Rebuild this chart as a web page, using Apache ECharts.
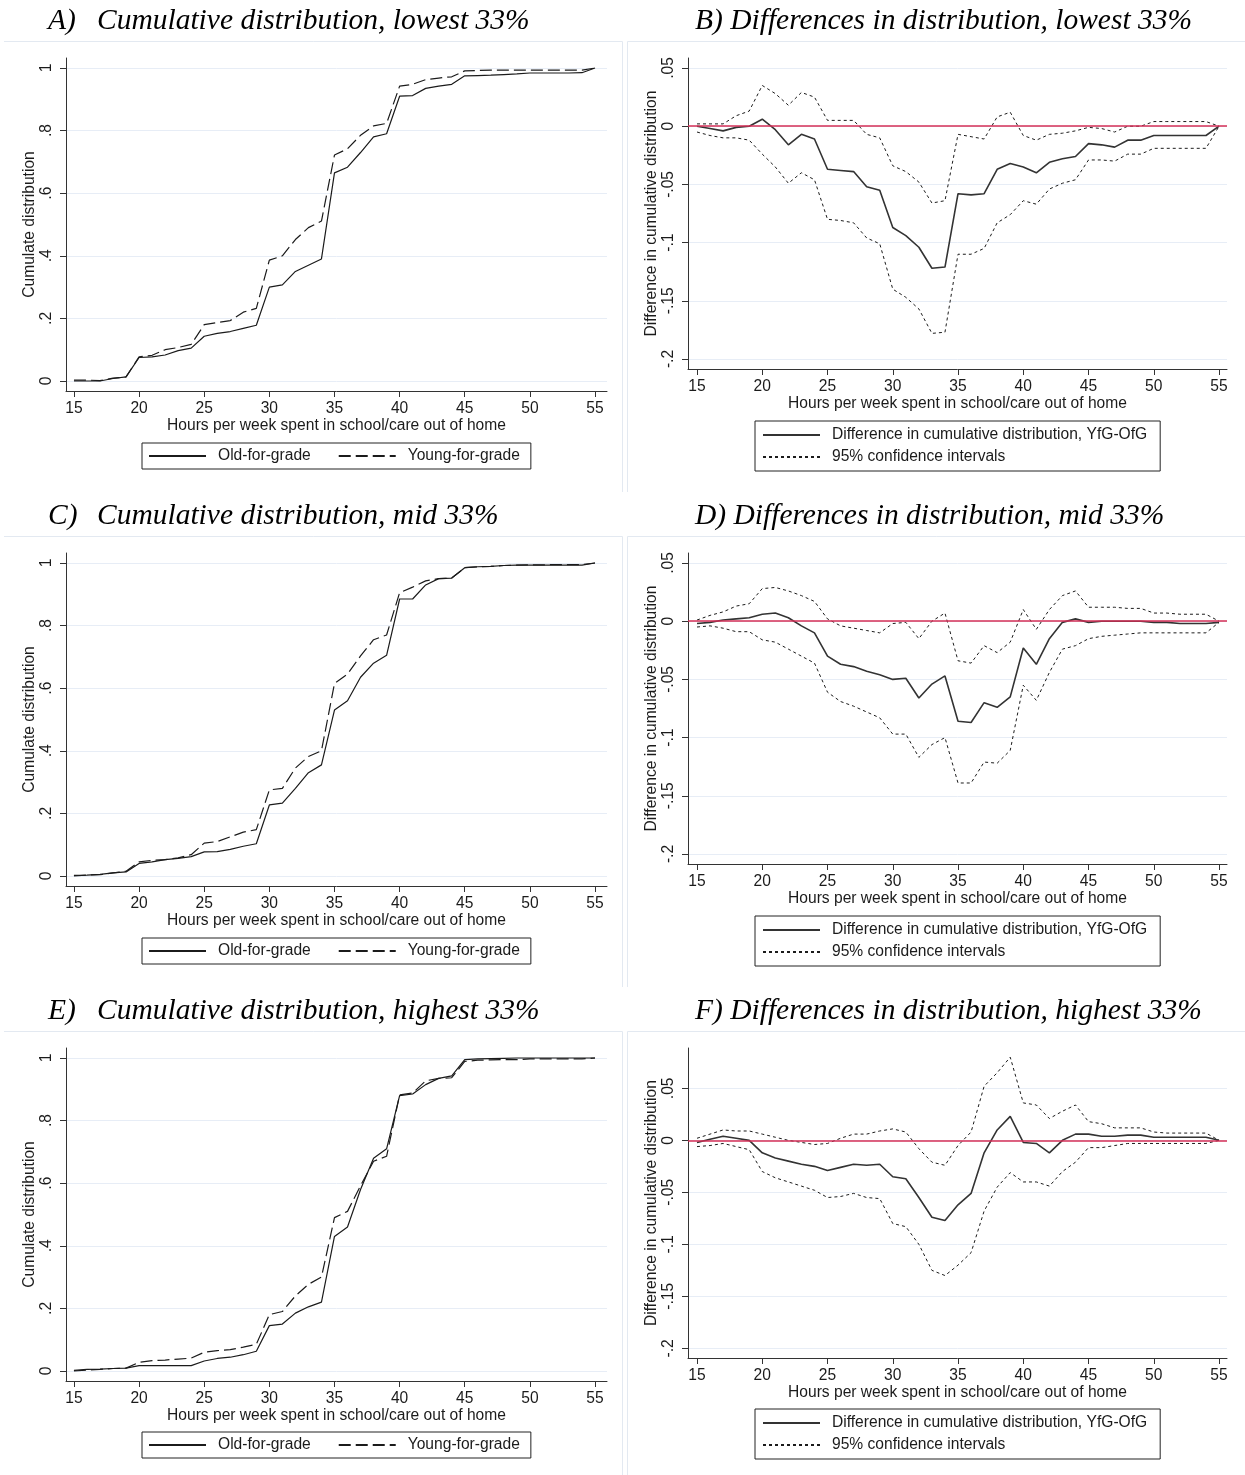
<!DOCTYPE html>
<html>
<head>
<meta charset="utf-8">
<script src="https://cdn.jsdelivr.net/npm/echarts@6/dist/echarts.min.js"></script>
<style>
  html, body { margin: 0; padding: 0; background: #fff; }
  #chart { width: 1245px; height: 1475px; }
</style>
</head>
<body>
<div id="chart"></div>
<script>
// Hours per week spent in school/care out of home
const hours = [15,16,17,18,19,20,21,22,23,24,25,26,27,28,29,30,31,32,33,34,35,
               36,37,38,39,40,41,42,43,44,45,46,47,48,49,50,51,52,53,54,55];

const xTicks = [15, 20, 25, 30, 35, 40, 45, 50, 55];
const cumTicks = [0, 0.2, 0.4, 0.6, 0.8, 1];
const diffTicks = [-0.2, -0.15, -0.1, -0.05, 0, 0.05];

// Cumulative distributions, lowest 33%
const oldLowest = [0,0,0,0.008,0.013,0.075,0.077,0.083,0.097,0.105,0.143,0.152,0.158,0.168,0.178,
  0.300,0.307,0.350,0.370,0.390,0.665,0.683,0.730,0.780,0.790,0.910,0.912,0.935,0.942,0.948,
  0.975,0.976,0.977,0.979,0.981,0.984,0.984,0.984,0.984,0.985,1.0];
const youngLowest = [0.003,0.003,0.001,0.009,0.013,0.077,0.082,0.100,0.107,0.117,0.180,0.187,0.193,0.220,0.232,
  0.386,0.400,0.452,0.490,0.511,0.722,0.742,0.785,0.815,0.823,0.942,0.948,0.963,0.968,0.972,
  0.991,0.992,0.993,0.993,0.993,0.993,0.993,0.993,0.993,0.993,1.0];

// Differences and 95% confidence bounds, lowest 33%
const diffLowest = [0,-0.002,-0.004,-0.001,0,0.006,-0.003,-0.016,-0.007,-0.011,-0.037,-0.038,-0.039,-0.052,-0.055,
  -0.087,-0.094,-0.104,-0.122,-0.121,-0.058,-0.059,-0.058,-0.037,-0.032,-0.035,-0.040,-0.031,-0.028,-0.026,
  -0.015,-0.016,-0.018,-0.012,-0.012,-0.008,-0.008,-0.008,-0.008,-0.008,0];
const upperLowest = [0.002,0.002,0.002,0.009,0.013,0.035,0.028,0.018,0.029,0.025,0.005,0.005,0.005,-0.007,-0.010,
  -0.034,-0.039,-0.048,-0.066,-0.064,-0.007,-0.009,-0.011,0.008,0.012,-0.008,-0.012,-0.007,-0.006,-0.004,
  -0.001,-0.002,-0.005,0,0,0.004,0.004,0.004,0.004,0.004,0];
const lowerLowest = [-0.005,-0.008,-0.010,-0.010,-0.012,-0.024,-0.035,-0.049,-0.040,-0.046,-0.080,-0.081,-0.083,-0.096,-0.101,
  -0.140,-0.147,-0.157,-0.178,-0.177,-0.110,-0.110,-0.105,-0.083,-0.076,-0.064,-0.067,-0.054,-0.049,-0.046,
  -0.029,-0.029,-0.030,-0.024,-0.024,-0.019,-0.019,-0.019,-0.019,-0.019,0];

// Cumulative distributions, mid 33%
const oldMid = [0.002,0.003,0.005,0.010,0.013,0.040,0.045,0.052,0.056,0.062,0.077,0.078,0.085,0.095,0.103,
  0.227,0.233,0.280,0.330,0.355,0.530,0.560,0.635,0.680,0.705,0.885,0.885,0.930,0.950,0.952,
  0.985,0.988,0.989,0.992,0.993,0.993,0.993,0.993,0.993,0.993,1.0];
const youngMid = [0,0.003,0.004,0.010,0.015,0.045,0.050,0.052,0.058,0.068,0.105,0.110,0.125,0.140,0.148,
  0.275,0.280,0.345,0.382,0.400,0.615,0.645,0.703,0.755,0.770,0.905,0.923,0.943,0.950,0.952,
  0.985,0.988,0.989,0.992,0.993,0.994,0.994,0.995,0.995,0.995,1.0];

// Differences and 95% confidence bounds, mid 33%
const diffMid = [-0.002,-0.001,0.001,0.002,0.003,0.006,0.007,0.003,-0.004,-0.010,-0.030,-0.037,-0.039,-0.043,-0.046,
  -0.050,-0.049,-0.066,-0.054,-0.047,-0.086,-0.087,-0.070,-0.074,-0.065,-0.023,-0.037,-0.015,-0.001,0.002,
  -0.001,0,0,0,0,-0.001,-0.001,-0.002,-0.002,-0.002,-0.001];
const upperMid = [0.001,0.005,0.008,0.013,0.015,0.028,0.029,0.026,0.022,0.017,0.002,-0.004,-0.006,-0.008,-0.010,
  -0.002,-0.001,-0.015,0,0.007,-0.034,-0.036,-0.021,-0.027,-0.018,0.010,-0.007,0.010,0.022,0.026,
  0.012,0.012,0.012,0.011,0.011,0.007,0.007,0.006,0.006,0.006,0];
const lowerMid = [-0.005,-0.004,-0.006,-0.009,-0.009,-0.016,-0.018,-0.024,-0.030,-0.036,-0.061,-0.069,-0.073,-0.078,-0.083,
  -0.097,-0.097,-0.117,-0.106,-0.100,-0.139,-0.139,-0.121,-0.122,-0.111,-0.055,-0.068,-0.044,-0.024,-0.021,
  -0.015,-0.013,-0.012,-0.011,-0.010,-0.010,-0.010,-0.010,-0.010,-0.010,-0.001];

// Cumulative distributions, highest 33%
const oldHigh = [0.002,0.005,0.006,0.008,0.009,0.017,0.017,0.017,0.017,0.017,0.032,0.040,0.044,0.052,0.063,
  0.145,0.150,0.185,0.205,0.220,0.430,0.460,0.580,0.680,0.710,0.880,0.885,0.915,0.935,0.943,
  0.995,0.997,0.998,0.999,1.0,1.0,1.0,1.0,1.0,1.0,1.0];
const youngHigh = [0,0.003,0.005,0.008,0.009,0.028,0.033,0.035,0.038,0.041,0.060,0.065,0.068,0.076,0.085,
  0.180,0.190,0.240,0.277,0.300,0.490,0.510,0.592,0.670,0.686,0.882,0.888,0.927,0.935,0.937,
  0.989,0.993,0.994,0.995,0.995,0.997,0.997,0.997,0.997,0.997,1.0];

// Differences and 95% confidence bounds, highest 33%
const diffHigh = [-0.002,0.001,0.004,0.002,0,-0.012,-0.017,-0.020,-0.023,-0.025,-0.029,-0.026,-0.023,-0.024,-0.023,
  -0.035,-0.037,-0.055,-0.074,-0.077,-0.062,-0.051,-0.012,0.010,0.023,-0.002,-0.003,-0.012,0,0.006,
  0.006,0.004,0.004,0.005,0.005,0.003,0.003,0.003,0.003,0.003,0];
const upperHigh = [0.002,0.006,0.010,0.009,0.009,0.006,0.003,0,-0.002,-0.004,-0.003,0.002,0.006,0.006,0.009,
  0.011,0.008,-0.008,-0.021,-0.024,-0.005,0.008,0.052,0.065,0.080,0.036,0.034,0.021,0.028,0.034,
  0.018,0.016,0.012,0.012,0.012,0.008,0.007,0.007,0.007,0.007,0];
const lowerHigh = [-0.006,-0.005,-0.003,-0.006,-0.009,-0.030,-0.036,-0.040,-0.044,-0.048,-0.055,-0.054,-0.051,-0.055,-0.056,
  -0.080,-0.083,-0.100,-0.125,-0.130,-0.120,-0.108,-0.068,-0.045,-0.031,-0.040,-0.040,-0.044,-0.030,-0.021,
  -0.007,-0.007,-0.005,-0.003,-0.003,-0.003,-0.003,-0.003,-0.003,-0.003,0];

const panelTitles = [
  ['A)', 'Cumulative distribution, lowest 33%'],
  'B) Differences in distribution, lowest 33%',
  ['C)', 'Cumulative distribution, mid 33%'],
  'D) Differences in distribution, mid 33%',
  ['E)', 'Cumulative distribution, highest 33%'],
  'F) Differences in distribution, highest 33%'
];

const X_NAME = 'Hours per week spent in school/care out of home';
const CUM_NAME = 'Cumulate distribution';
const DIFF_NAME = 'Difference in cumulative distribution';
const OLD = 'Old-for-grade', YOUNG = 'Young-for-grade';
const DIFF = 'Difference in cumulative distribution, YfG-OfG', CI = '95% confidence intervals';

const SANS = '"Liberation Sans", Arial, sans-serif';
const SERIF = '"Liberation Serif", "Times New Roman", serif';
const INK = '#1b1b1b';
const FS = 15.6;

// Stata-style tick labels: drop the leading zero (".8", "-.05")
function stataFmt(v) {
  let s = String(+(+v).toFixed(3));
  return s.replace(/^0\./, '.').replace(/^-0\./, '-.');
}

const pts = arr => hours.map((h, i) => [h, arr[i]]);

const rows = [0, 495, 990];
const cumData = [[oldLowest, youngLowest], [oldMid, youngMid], [oldHigh, youngHigh]];
const diffData = [[diffLowest, upperLowest, lowerLowest], [diffMid, upperMid, lowerMid], [diffHigh, upperHigh, lowerHigh]];
const diffRange = [[-0.2086, 0.0586], [-0.2086, 0.0586], [-0.2093, 0.0888]];
const legendTopsCum = [443, 938, 1432];
const legendTopsDiff = [421, 916, 1409];

const grids = [], xAxes = [], yAxes = [], series = [], titles = [], legends = [], graphics = [];

function axisCommon() {
  return {
    type: 'value',
    axisLine: { show: true, onZero: false, lineStyle: { color: '#333', width: 1 } },
    axisTick: { show: true, length: 6, lineStyle: { color: '#333', width: 1 } },
    axisLabel: { color: INK, fontFamily: SANS, fontSize: FS },
    nameTextStyle: { color: INK, fontFamily: SANS, fontSize: FS },
    nameLocation: 'middle'
  };
}

// legend symbols hidden: only the line sample is shown
const legendCommon = {
  itemWidth: 57, itemHeight: 16,
  borderColor: '#222', borderWidth: 1, backgroundColor: '#fff', selectedMode: false,
  itemStyle: { opacity: 0, borderWidth: 0 },
  textStyle: { color: INK, fontFamily: SANS, fontSize: FS, padding: [0, 0, 0, 7] }
};

rows.forEach((dy, r) => {
  // ---- left panel: cumulative distributions ----
  const gL = grids.length;
  grids.push({ left: 66, top: 58 + dy, width: 541, height: 333 });
  const xL = axisCommon();
  Object.assign(xL, { gridIndex: gL, min: 14.39, max: 55.92, name: X_NAME, nameGap: 25, position: 'bottom' });
  xL.axisTick.customValues = xTicks;
  xL.axisLabel = Object.assign({}, xL.axisLabel, { customValues: xTicks, margin: 10 });
  xL.splitLine = { show: false };
  xAxes.push(xL);
  const yL = axisCommon();
  Object.assign(yL, { gridIndex: gL, min: -0.032, max: 1.032, name: CUM_NAME, nameGap: 28, nameRotate: 90 });
  yL.axisTick.customValues = cumTicks;
  yL.axisLabel = Object.assign({}, yL.axisLabel, { customValues: cumTicks, rotate: 90, margin: 11, formatter: stataFmt });
  yL.splitLine = { show: true, lineStyle: { color: '#e7edf6', width: 1 } };
  yAxes.push(yL);

  series.push({
    type: 'line', name: OLD, xAxisIndex: gL, yAxisIndex: gL, data: pts(cumData[r][0]),
    symbol: 'none', silent: true, lineStyle: { color: INK, width: 1.2, type: 'solid' }, itemStyle: { color: INK }
  });
  series.push({
    type: 'line', name: YOUNG, xAxisIndex: gL, yAxisIndex: gL, data: pts(cumData[r][1]),
    symbol: 'none', silent: true, lineStyle: { color: INK, width: 1.2, type: [12, 5] }, itemStyle: { color: INK }
  });

  // ---- right panel: differences with confidence bounds ----
  const gR = grids.length;
  grids.push({ left: 688, top: 58 + dy, width: 539, height: r === 2 ? 310 : 311 });
  const xR = axisCommon();
  Object.assign(xR, { gridIndex: gR, min: 14.31, max: 55.61, name: X_NAME, nameGap: 25, position: 'bottom' });
  xR.axisTick.customValues = xTicks;
  xR.axisLabel = Object.assign({}, xR.axisLabel, { customValues: xTicks, margin: 10 });
  xR.splitLine = { show: false };
  xAxes.push(xR);
  const yR = axisCommon();
  Object.assign(yR, { gridIndex: gR, min: diffRange[r][0], max: diffRange[r][1], name: DIFF_NAME, nameGap: 28, nameRotate: 90 });
  yR.axisTick.customValues = diffTicks;
  yR.axisLabel = Object.assign({}, yR.axisLabel, { customValues: diffTicks, rotate: 90, margin: 11, formatter: stataFmt });
  yR.splitLine = { show: true, lineStyle: { color: '#e7edf6', width: 1 } };
  yAxes.push(yR);

  series.push({
    type: 'line', name: DIFF, xAxisIndex: gR, yAxisIndex: gR, data: pts(diffData[r][0]),
    symbol: 'none', silent: true, z: 3, lineStyle: { color: '#333', width: 1.6, type: 'solid' }, itemStyle: { color: '#333' },
    markLine: {
      silent: true, symbol: ['none', 'none'], label: { show: false },
      lineStyle: { color: '#d42f57', width: 1.6, type: 'solid' },
      data: [{ yAxis: 0 }]
    }
  });
  [1, 2].forEach(k => series.push({
    type: 'line', name: CI, xAxisIndex: gR, yAxisIndex: gR, data: pts(diffData[r][k]),
    symbol: 'none', silent: true, lineStyle: { color: INK, width: 1, type: [3, 3] }, itemStyle: { color: INK }
  }));

  // titles
  const tL = panelTitles[r * 2], tR = panelTitles[r * 2 + 1];
  const titleStyle = { fontFamily: SERIF, fontStyle: 'italic', fontWeight: 'normal', fontSize: 29.5, color: '#000', lineHeight: 34 };
  titles.push({
    left: 48, top: 4 + dy, padding: 0,
    text: '{l|' + tL[0] + '}{t|' + tL[1] + '}',
    textStyle: Object.assign({}, titleStyle, {
      rich: { l: Object.assign({}, titleStyle, { width: 49 }), t: Object.assign({}, titleStyle) }
    })
  });
  titles.push({ left: 695, top: 4 + dy, padding: 0, text: tR, textStyle: titleStyle });

  // legends
  legends.push(Object.assign({}, legendCommon, {
    data: [OLD, YOUNG], orient: 'horizontal', left: 142, top: legendTopsCum[r],
    padding: [5, 11, 5, 6], itemGap: 27
  }));
  legends.push(Object.assign({}, legendCommon, {
    data: [DIFF, CI], orient: 'vertical', left: 755, top: legendTopsDiff[r],
    padding: [6, 13, 6, 7], itemGap: 6
  }));

  // faint panel frames
  const frame = { stroke: '#e3e9f1', lineWidth: 1 };
  graphics.push({ type: 'polyline', silent: true, shape: { points: [[4, 41.5 + dy], [622.5, 41.5 + dy], [622.5, 492 + dy]] }, style: Object.assign({ fill: null }, frame) });
  graphics.push({ type: 'polyline', silent: true, shape: { points: [[627.5, 492 + dy], [627.5, 41.5 + dy], [1245, 41.5 + dy]] }, style: Object.assign({ fill: null }, frame) });
});

const chart = echarts.init(document.getElementById('chart'), null, { renderer: 'canvas' });
chart.setOption({
  animation: false,
  backgroundColor: '#fff',
  title: titles,
  legend: legends,
  grid: grids,
  xAxis: xAxes,
  yAxis: yAxes,
  series: series,
  graphic: graphics
});
</script>
</body>
</html>
